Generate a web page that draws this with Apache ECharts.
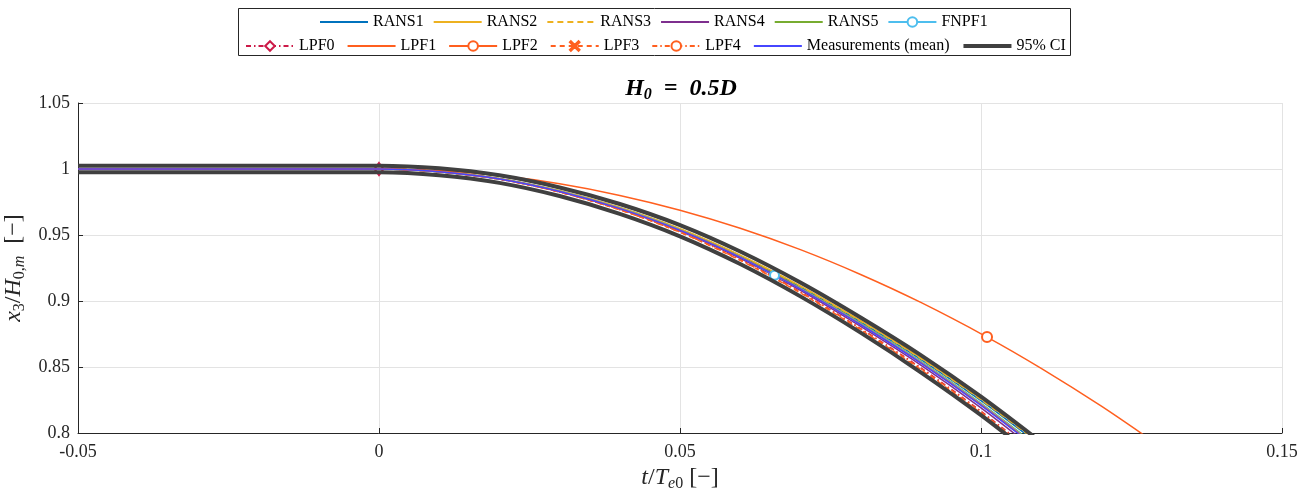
<!DOCTYPE html>
<html><head><meta charset="utf-8">
<script src="https://cdn.jsdelivr.net/npm/echarts@6/dist/echarts.min.js"></script>
<style>html,body{margin:0;padding:0;background:#fff}#c{width:1311px;height:493px}</style>
</head><body><div id="c"></div>
<script>
// time grids (t/Te0)
const T = [-0.05, 0, 0.01, 0.02, 0.03, 0.04, 0.05, 0.06, 0.07, 0.08, 0.09, 0.10, 0.11];
const T_FNPF1 = [-0.05, 0, 0.01, 0.02, 0.03, 0.04, 0.05, 0.06, 0.0657, 0.07, 0.08, 0.09, 0.10, 0.11];
const T_LPF2 = [-0.05, 0, 0.01, 0.02, 0.03, 0.04, 0.05, 0.06, 0.07, 0.08, 0.09, 0.101, 0.11, 0.12, 0.13];

// series values (x3/H0,m)
const RANS1 = [1, 1, 0.998, 0.9926, 0.9833, 0.9706, 0.9544, 0.9343, 0.9107, 0.8842, 0.8558, 0.8245, 0.7902];
const RANS2 = [1, 1, 0.998, 0.9927, 0.9835, 0.9708, 0.9548, 0.9348, 0.9115, 0.8852, 0.857, 0.826, 0.792];
const RANS3 = [1, 1, 0.998, 0.9927, 0.9834, 0.9707, 0.9545, 0.9345, 0.9111, 0.8847, 0.8564, 0.8252, 0.7911];
const RANS4 = [1, 1, 0.998, 0.9924, 0.9828, 0.9697, 0.953, 0.9323, 0.908, 0.8807, 0.8514, 0.819, 0.7836];
const RANS5 = [1, 1, 0.998, 0.9926, 0.9831, 0.9702, 0.9539, 0.9335, 0.9097, 0.883, 0.8542, 0.8225, 0.7878];
const FNPF1 = [1, 1, 0.998, 0.9925, 0.9831, 0.9702, 0.9538, 0.9334, 0.9195, 0.9095, 0.8826, 0.8538, 0.822, 0.7872];
const LPF0 = [1, 1, 0.998, 0.9923, 0.9826, 0.9693, 0.9524, 0.9314, 0.9068, 0.8791, 0.8494, 0.8165, 0.7806];
const LPF1 = [1, 1, 0.998, 0.9925, 0.983, 0.9701, 0.9536, 0.9332, 0.9092, 0.8823, 0.8534, 0.8215, 0.7866];
const LPF2 = [1, 1, 0.9988, 0.995, 0.9888, 0.980, 0.9688, 0.9551, 0.9389, 0.9201, 0.8989, 0.8727, 0.849, 0.8203, 0.7891];
const LPF3 = [1, 1, 0.9979, 0.9923, 0.9825, 0.969, 0.952, 0.9308, 0.9061, 0.8782, 0.8481, 0.815, 0.7787];
const LPF4 = [1, 1, 0.9979, 0.9923, 0.9826, 0.9692, 0.9523, 0.9312, 0.9065, 0.8788, 0.8488, 0.816, 0.780];
const MEAS = [1, 1, 0.998, 0.9925, 0.983, 0.970, 0.9535, 0.933, 0.909, 0.882, 0.853, 0.821, 0.786];
const CI_UP = [1.0025, 1.0025, 1.0005, 0.9952, 0.986, 0.9735, 0.9575, 0.9375, 0.914, 0.8875, 0.859, 0.8275, 0.793];
const CI_LO = [0.9975, 0.9975, 0.9953, 0.9895, 0.9795, 0.966, 0.949, 0.928, 0.9035, 0.876, 0.846, 0.8135, 0.778];

const X_TICKS = [-0.05, 0, 0.05, 0.1, 0.15];
const Y_TICKS = [0.8, 0.85, 0.9, 0.95, 1, 1.05];

const LEG_ROW1 = ['RANS1', 'RANS2', 'RANS3', 'RANS4', 'RANS5', 'FNPF1'];
const LEG_ROW2 = ['LPF0', 'LPF1', 'LPF2', 'LPF3', 'LPF4', 'Measurements (mean)', '95% CI'];
const WITH_MARKER = ['FNPF1', 'LPF0', 'LPF2', 'LPF3', 'LPF4'];

const pairs = (ts, vs, marks) => ts.map((t, i) =>
  (marks && marks.includes(i)) ? [t, vs[i]] : { value: [t, vs[i]], symbol: 'none' });

const ORANGE = '#FF5F1F';
const FONT = 'Liberation Serif';
const XSYM = 'path://M0,1L1,0L5,4L9,0L10,1L6,5L10,9L9,10L5,6L1,10L0,9L4,5Z';

function line(name, ts, vs, color, opts) {
  opts = opts || {};
  return {
    name, type: 'line', data: pairs(ts, vs, opts.marks || []),
    symbol: opts.symbol || 'none', symbolSize: opts.symbolSize || 9,
    showSymbol: true, clip: true, smooth: 0.3, z: opts.z || 2,
    lineStyle: { color, width: opts.width || 1.5, type: opts.type || 'solid' },
    itemStyle: { color, borderColor: color, borderWidth: 1.5 },
    emphasis: { disabled: true }
  };
}

const series = [
  line('RANS1', T, RANS1, '#0072BD'),
  line('RANS2', T, RANS2, '#EDB120'),
  line('RANS3', T, RANS3, '#EDB120', { type: [6, 4] }),
  line('RANS4', T, RANS4, '#7E2F8E'),
  line('RANS5', T, RANS5, '#77AC30'),
  line('FNPF1', T_FNPF1, FNPF1, '#4DBEEE', { symbol: 'emptyCircle', marks: [8] }),
  line('LPF0', T, LPF0, '#CC1A48', { symbol: 'emptyDiamond', symbolSize: [9, 12], type: [5, 3, 1.5, 3], marks: [1], z: 1 }),
  line('LPF1', T, LPF1, ORANGE),
  line('LPF2', T_LPF2, LPF2, ORANGE, { symbol: 'emptyCircle', symbolSize: 10, marks: [11] }),
  line('LPF3', T, LPF3, ORANGE, { symbol: XSYM, symbolSize: 7, type: [5, 4] }),
  line('LPF4', T, LPF4, ORANGE, { symbol: 'emptyCircle', type: [5, 3, 1.5, 3] }),
  line('Measurements (mean)', T, MEAS, '#4646FF', { width: 1.5 }),
  line('95% CI', T, CI_UP, '#404040', { width: 4, z: 3 }),
  line('95% CI', T, CI_LO, '#404040', { width: 4, z: 3 })
];

const legItem = n => {
  const it = { name: n };
  if (!WITH_MARKER.includes(n)) it.itemStyle = { opacity: 0 };
  if (n === '95% CI') it.lineStyle = { width: 4 };
  return it;
};

const legendCommon = {
  orient: 'horizontal', itemWidth: 48, itemHeight: 12, padding: 0,
  textStyle: { fontFamily: FONT, fontSize: 16, color: '#000' },
  selectedMode: false
};

const axisLbl = { fontFamily: FONT, fontSize: 18, color: '#262626' };
const rich = {
  i: { fontFamily: FONT, fontStyle: 'italic', fontSize: 24, color: '#262626' },
  s: { fontFamily: FONT, fontSize: 16, color: '#262626', padding: [11, 0, 0, 0] },
  si: { fontFamily: FONT, fontStyle: 'italic', fontSize: 16, color: '#262626', padding: [11, 0, 0, 0] },
  n: { fontFamily: FONT, fontSize: 24, color: '#262626' }
};

const chart = echarts.init(document.getElementById('c'), null, { renderer: 'canvas' });
chart.setOption({
  animation: false,
  backgroundColor: '#fff',
  grid: { left: 78, right: 29, top: 103, bottom: 60, containLabel: false, outerBoundsMode: 'none' },
  graphic: [
    { type: 'rect', z: -1, shape: { x: 238.5, y: 8.5, width: 832, height: 47 },
      style: { fill: '#fff', stroke: '#262626', lineWidth: 1 } },
    { type: 'text', x: 681, y: 89, style: {
        text: '{h|H}{hs|0}{h|  =  0.5}{h|D}', align: 'center', verticalAlign: 'middle',
        rich: {
          h: { fontFamily: FONT, fontStyle: 'italic', fontWeight: 'bold', fontSize: 24, fill: '#000' },
          hs: { fontFamily: FONT, fontStyle: 'italic', fontWeight: 'bold', fontSize: 16, fill: '#000', padding: [11, 0, 0, 0] }
        } } }
  ],
  legend: [
    Object.assign({ data: LEG_ROW1.map(legItem), left: 319, top: 14, itemGap: 9 }, legendCommon),
    Object.assign({ data: LEG_ROW2.map(legItem), left: 245, top: 38, itemGap: 12 }, legendCommon)
  ],
  xAxis: {
    type: 'value', min: X_TICKS[0], max: X_TICKS[X_TICKS.length - 1], interval: 0.05,
    axisLine: { onZero: false, lineStyle: { color: '#262626' } },
    axisTick: { inside: true, length: 5, lineStyle: { color: '#262626' } },
    axisLabel: Object.assign({ margin: 10, formatter: v => String(+v.toFixed(2)) }, axisLbl),
    splitLine: { show: true, lineStyle: { color: '#e3e3e3' } },
    name: '{i|t}{n|/}{i|T}{si|e}{s|0}{n| [−]}', nameLocation: 'middle', nameGap: 28,
    nameTextStyle: { rich }
  },
  yAxis: {
    type: 'value', min: Y_TICKS[0], max: Y_TICKS[Y_TICKS.length - 1], interval: 0.05,
    axisLine: { show: true, onZero: false, lineStyle: { color: '#262626' } },
    axisTick: { show: true, inside: true, length: 5, lineStyle: { color: '#262626' } },
    axisLabel: Object.assign({ margin: 8, formatter: v => String(+v.toFixed(2)) }, axisLbl),
    splitLine: { show: true, lineStyle: { color: '#e3e3e3' } },
    name: '{i|x}{s|3}{n|/}{i|H}{s|0,}{si|m}{n|  [−]}', nameLocation: 'middle', nameGap: 46, nameRotate: 90,
    nameTextStyle: { rich }
  },
  series
});
</script></body></html>
